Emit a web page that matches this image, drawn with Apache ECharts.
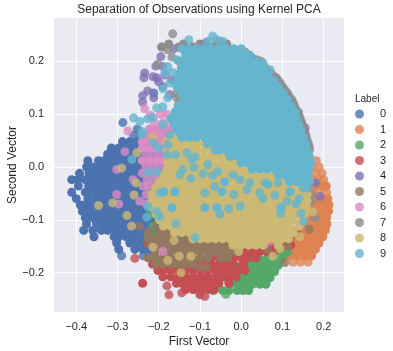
<!DOCTYPE html>
<html>
<head>
<meta charset="utf-8">
<script src="https://cdn.jsdelivr.net/npm/echarts@6/dist/echarts.min.js"></script>
<style>
  html, body { margin: 0; padding: 0; background: #fff; }
  #chart { width: 393px; height: 351px; }
</style>
</head>
<body>
<div id="chart"></div>
<script>
const labels = ['0', '1', '2', '3', '4', '5', '6', '7', '8', '9'];
const xTicks = [-0.4, -0.3, -0.2, -0.1, 0, 0.1, 0.2];
const yTicks = [-0.2, -0.1, 0, 0.1, 0.2];

// every row below is [y, x, x, x...]
const label0 = [
  [.14, -.212], [.084, -.287], [.072, -.252], [.06, -.261, -.243, -.225],
  [.048, -.288, -.27, -.252, -.234, -.216],
  [.036, -.315, -.297, -.279, -.261, -.243, -.225, -.207],
  [.024, -.324, -.306, -.288, -.27, -.252, -.234, -.216, -.198],
  [.012, -.372, -.346, -.333, -.315, -.297, -.279, -.261, -.243, -.225, -.207],
  [0, -.375, -.36, -.342, -.324, -.306, -.288, -.27, -.252, -.234, -.216, -.198],
  [-.012, -.392, -.369, -.351, -.333, -.315, -.297, -.279, -.261, -.243, -.225, -.207, -.189],
  [-.024, -.411, -.396, -.378, -.36, -.342, -.324, -.306, -.288, -.27, -.252, -.234, -.216, -.198],
  [-.036, -.395, -.37, -.351, -.333, -.315, -.297, -.279, -.261, -.243, -.225, -.207, -.189],
  [-.048, -.411, -.378, -.36, -.342, -.324, -.306, -.288, -.27, -.252, -.234, -.216, -.198],
  [-.06, -.4, -.372, -.351, -.333, -.315, -.297, -.279, -.261, -.243, -.225, -.207, -.189],
  [-.072, -.39, -.378, -.36, -.342, -.324, -.306, -.288, -.27, -.252, -.234, -.216, -.198],
  [-.084, -.385, -.369, -.351, -.333, -.315, -.297, -.279, -.261, -.243, -.225, -.207, -.189],
  [-.096, -.378, -.36, -.342, -.324, -.306, -.288, -.27, -.252, -.234, -.216, -.198],
  [-.108, -.375, -.351, -.333, -.315, -.297, -.279, -.261, -.243, -.225, -.207, -.189],
  [-.12, -.382, -.36, -.339, -.324, -.306, -.288, -.27, -.252, -.234, -.216, -.198],
  [-.132, -.357, -.308, -.297, -.279, -.261, -.243, -.225, -.207],
  [-.144, -.302, -.27, -.252, -.234, -.216],
  [-.156, -.297, -.258, -.238, -.222], [-.168, -.29, -.238, -.224]
];
const label1 = [
  [.012, .182], [0, .171, .189], [-.012, .162, .18, .196], [-.024, .171, .189, .2],
  [-.036, .162, .18, .198, .206], [-.048, .171, .189, .207], [-.06, .162, .18, .198, .21],
  [-.072, .171, .189, .207, .213], [-.084, .162, .18, .198, .212], [-.096, .153, .171, .189, .207],
  [-.108, .144, .162, .18, .198, .208], [-.12, .135, .153, .171, .189, .204],
  [-.132, .126, .144, .162, .18, .198], [-.144, .117, .135, .153, .171, .189],
  [-.156, .108, .126, .144, .162, .18], [-.168, .117, .135, .153, .171], [-.18, .126, .144, .162]
];
const label2 = [
  [-.15, .09, .108], [-.162, .063, .081, .099, .112], [-.174, .027, .045, .063, .081, .099],
  [-.186, .001, .018, .036, .054, .072, .09], [-.198, -.009, .009, .027, .045, .063, .081],
  [-.21, -.054, -.036, -.018, 0, .018, .036, .054, .07],
  [-.222, -.063, -.027, -.009, .009, .027, .045, .06],
  [-.234, -.068, -.045, -.03, -.01, .004, .018],
  [-.241, -.037], [-.24, -.1],
  [-.012, -.228], [-.035, -.218], [-.042, -.226], [-.067, -.207], [-.076, -.216],
  [-.081, -.222], [-.09, -.212], [-.1, -.2], [-.112, -.214], [-.13, -.212], [-.138, -.227],
  [-.144, -.228], [-.05, -.21], [-.026, -.208], [-.15, -.166]
];
const label3 = [
  [-.122, .133], [-.135, .118], [-.148, .018, .036, .054, .072, .09, .108, .12],
  [-.16, -.063, -.045, -.027, -.009, .009, .027, .045, .063, .08],
  [-.172, -.072, -.054, -.036, -.018, 0, .018, .036],
  [-.173, -.258], [-.184, -.215, -.198, -.18, -.162, -.144, -.126, -.108, -.09, -.072, -.054, -.036, -.018, .005],
  [-.196, -.202, -.189, -.171, -.153, -.135, -.117, -.099, -.081, -.063, -.045, -.027, -.009, .009],
  [-.208, -.19, -.171, -.153, -.135, -.117, -.099, -.081, -.063, -.045, -.027, -.012],
  [-.22, -.239, -.157, -.144, -.126, -.108, -.09, -.072, -.054, -.03],
  [-.225, -.18], [-.232, -.135, -.117, -.099, -.081, -.065],
  [-.238, -.144], [-.242, -.175, -.1], [-.245, -.088], [-.23, -.083], [-.144, -.228]
];
const label4 = [
  [.237, -.052], [.235, -.086], [.224, -.163], [.209, -.195], [.191, -.207], [.19, -.19],
  [.178, -.234], [.174, -.185], [.171, -.214], [.169, -.236, -.205], [.165, -.168], [.161, -.2],
  [.152, -.19], [.144, -.227], [.137, -.173], [.135, -.239], [.131, -.212], [.123, -.239],
  [.074, .155], [-.03, .181], [-.056, .191]
];
const label5 = [
  [-.112, -.246, -.207, -.189], [-.124, -.225, -.198, -.18, -.162, -.144],
  [-.136, -.225, -.207, -.189, -.171, -.153, -.135, -.117],
  [-.148, -.216, -.198, -.18, -.162, -.144, -.126, -.108, -.09, -.072, -.054, -.036],
  [-.16, -.207, -.189, -.171, -.153, -.135, -.117, -.099, -.081, -.063, -.045, -.027, -.009],
  [-.172, -.226, -.207, -.189, -.171, -.153, -.135, -.117, -.099, -.081, -.05, -.033],
  [-.184, -.207, -.189, -.171, -.153, -.135, -.117],
  [-.19, -.085, -.1], [-.156, .065], [-.15, .113], [-.181, .106], [-.118, .165]
];
const label6 = [
  [.11, -.234], [.1, -.18, -.196], [.098, -.22], [.084, -.21, -.19, -.172], [.072, -.222, -.204, -.186, -.168],
  [.068, -.275], [.06, -.231, -.213, -.195, -.177], [.048, -.24, -.222, -.204, -.186],
  [.036, -.24, -.222, -.204, -.186], [.029, -.282], [.024, -.231, -.213, -.195],
  [.012, -.24, -.222, -.204, -.186], [0, -.231, -.213, -.195], [-.012, -.24, -.222, -.204],
  [-.005, -.302], [-.024, -.228, -.21, -.262], [-.036, -.225, -.207, -.238], [-.052, -.23, -.302],
  [-.065, -.246], [-.07, -.297, -.23], [-.148, -.001], [-.14, .07], [-.16, -.19]
];
const label7 = [
  [.252, -.166], [.233, -.176, -.14, -.1, -.06, -.035], [.227, -.193, -.151, -.117, -.076],
  [.222, -.178, -.02], [.217, .01], [.208, -.168, .025], [.203, .038], [.195, -.202],
  [.2, -.15, .048], [.188, .058], [.182, .066], [.176, .074], [.17, .08, .084], [.164, .085, .09],
  [.158, .095], [.152, .1, .096], [.146, .106], [.14, .108, .112], [.134, .116], [.128, .118, .122],
  [.122, .126], [.116, .129, .125], [.11, .132], [.104, .139, .134], [.098, .14],
  [.092, .143, .14], [.086, .146], [.08, .148, .145], [.14, -.156], [.131, -.156], [.068, .154], [.062, .156], [.056, .158],
  [.05, .16], [.044, .163], [.038, .165], [.032, .166], [.122, -.15],
  [-.03, .165], [-.04, .16], [-.05, .17], [-.065, .17], [-.096, .179]
];
const label8 = [
  [.057, -.214], [.048, -.183], [.027, -.253], [-.002, -.29], [-.03, -.255], [-.053, -.26],
  [-.068, -.312], [-.073, -.346], [-.092, -.277], [-.112, -.266], [-.152, -.214],
  [-.177, -.178], [-.169, -.122, -.15], [-.139, -.163], [-.2, -.146], [-.16, -.006],
  [-.169, .077], [-.155, .094], [-.132, .142], [-.085, .174],
  [.056, -.17, -.152, -.134, -.116],
  [.044, -.175, -.162, -.144, -.126, -.108, -.09],
  [.032, -.178, -.162, -.144, -.126, -.108, -.09, -.072, -.054, -.036],
  [.02, -.178, -.162, -.144, -.126, -.108, -.09, -.072, -.054, -.036, -.018, 0],
  [.008, -.178, -.171, -.153, -.135, -.117, -.099, -.081, -.063, -.045, -.027, -.009, .009, .027],
  [-.004, -.18, -.162, -.144, -.126, -.108, -.09, -.072, -.054, -.036, -.018, 0, .018, .036, .054],
  [-.016, -.189, -.171, -.153, -.135, -.117, -.099, -.081, -.063, -.045, -.027, -.009, .009, .027, .045, .063, .081, .099, .117],
  [-.028, -.198, -.18, -.162, -.144, -.126, -.108, -.09, -.072, -.054, -.036, -.018, 0, .018, .036, .054, .072, .09, .108, .126, .144],
  [-.04, -.207, -.189, -.171, -.153, -.135, -.117, -.099, -.081, -.063, -.045, -.027, -.009, .009, .027, .045, .063, .081, .099, .117, .135, .153],
  [-.052, -.216, -.198, -.18, -.162, -.144, -.126, -.108, -.09, -.072, -.054, -.036, -.018, 0, .018, .036, .054, .072, .09, .108, .126, .144, .16],
  [-.064, -.216, -.207, -.189, -.171, -.153, -.135, -.117, -.099, -.081, -.063, -.045, -.027, -.009, .009, .027, .045, .063, .081, .099, .117, .135, .153, .16],
  [-.076, -.216, -.198, -.18, -.162, -.144, -.126, -.108, -.09, -.072, -.054, -.036, -.018, 0, .018, .036, .054, .072, .09, .108, .126, .144, .158],
  [-.088, -.207, -.189, -.171, -.153, -.135, -.117, -.099, -.081, -.063, -.045, -.027, -.009, .009, .027, .045, .063, .081, .099, .117, .135, .155],
  [-.1, -.198, -.18, -.162, -.144, -.126, -.108, -.09, -.072, -.054, -.036, -.018, 0, .018, .036, .054, .072, .09, .108, .126, .148],
  [-.112, -.189, -.171, -.153, -.135, -.117, -.099, -.081, -.063, -.045, -.027, -.009, .009, .027, .045, .063, .081, .099, .117, .14],
  [-.124, -.162, -.144, -.126, -.108, -.09, -.072, -.054, -.036, -.018, 0, .018, .036, .054, .072, .09, .108, .126],
  [-.136, -.117, -.099, -.081, -.063, -.045, -.027, -.009, .009, .027, .045, .063, .081, .099, .115],
  [-.148, -.02, 0, .018, .036, .054, .09]
];
const label9 = [
  [.248, -.069], [.241, -.127, -.059], [.238, -.08, -.045],
  [.224, -.144, -.126, -.108, -.09, -.072, -.054, -.036, -.018, 0],
  [.212, -.135, -.117, -.099, -.081, -.063, -.045, -.027, -.009, .009, .02],
  [.203, -.156],
  [.2, -.139, -.126, -.108, -.09, -.072, -.054, -.036, -.018, 0, .018, .036],
  [.19, -.178], [.197, .053], [.184, .07],
  [.188, -.145, -.135, -.117, -.099, -.081, -.063, -.045, -.027, -.009, .009, .027, .045, .05],
  [.178, -.185], [.179, -.166],
  [.176, -.151, -.144, -.126, -.108, -.09, -.072, -.054, -.036, -.018, 0, .018, .036, .054, .065],
  [.164, -.153, -.135, -.117, -.099, -.081, -.063, -.045, -.027, -.009, .009, .027, .045, .063, .071, .078],
  [.159, -.173], [.148, -.19],
  [.152, -.156, -.144, -.126, -.108, -.09, -.072, -.054, -.036, -.018, 0, .018, .036, .054, .072, .082, .09],
  [.14, -.145, -.135, -.117, -.099, -.081, -.063, -.045, -.027, -.009, .009, .027, .045, .063, .081, .092, .102],
  [.131, -.178],
  [.128, -.139, -.126, -.108, -.09, -.072, -.054, -.036, -.018, 0, .018, .036, .054, .072, .09, .101, .112],
  [.116, -.153, -.135, -.117, -.099, -.081, -.063, -.045, -.027, -.009, .009, .027, .045, .063, .081, .099, .11, .121],
  [.114, -.19], [.112, -.205],
  [.104, -.16, -.144, -.126, -.108, -.09, -.072, -.054, -.036, -.018, 0, .018, .036, .054, .072, .09, .108, .119, .13],
  [.093, -.261, -.214], [.091, -.227], [.086, -.246],
  [.092, -.171, -.153, -.135, -.117, -.099, -.081, -.063, -.045, -.027, -.009, .009, .027, .045, .063, .081, .099, .117, .126, .134],
  [.08, -.19],
  [.08, -.162, -.144, -.126, -.108, -.09, -.072, -.054, -.036, -.018, 0, .018, .036, .054, .072, .09, .108, .126, .134, .14],
  [.068, -.153, -.135, -.117, -.099, -.081, -.063, -.045, -.027, -.009, .009, .027, .045, .063, .081, .099, .117, .135, .145],
  [.067, -.239], [.061, -.241, -.173],
  [.056, -.144, -.126, -.108, -.09, -.072, -.054, -.036, -.018, 0, .018, .036, .054, .072, .09, .108, .126, .144, .15],
  [.046, -.214], [.042, -.178], [.036, -.2],
  [.044, -.081, -.063, -.045, -.027, -.009, .009, .027, .045, .063, .081, .099, .117, .135, .153, .156],
  [.032, -.063, -.054, -.036, -.018, 0, .018, .036, .054, .072, .09, .108, .126, .144, .16],
  [.027, -.132], [.023, -.18, -.159], [.019, -.112], [.014, -.265, -.12],
  [.02, -.027, -.009, .009, .027, .045, .063, .081, .099, .117, .135, .153, .165],
  [.008, 0, .018, .036, .054, .072, .09, .108, .126, .144, .162, .168],
  [.004, -.081], [-.001, -.115], [-.005, -.142], [-.009, -.205, -.057],
  [-.004, .027, .045, .063, .081, .099, .117, .135, .153, .165],
  [-.011, -.226], [-.013, -.093], [-.015, -.149, -.02], [-.016, -.069],
  [-.016, .09, .108, .126, .144, .162],
  [-.022, -.122], [-.024, -.003], [-.028, -.04, .117, .135, .153, .165],
  [-.03, .021, .058, .089], [-.033, .065], [-.037, -.064], [-.04, .15, .16],
  [-.043, .014], [-.047, -.161, -.188, -.047, .118], [-.049, -.197, -.088, .045], [-.052, -.018],
  [-.054, .082], [-.06, .053, .14], [-.065, .111], [-.07, .133], [-.074, -.003], [-.075, -.226],
  [-.077, -.168, -.088, -.059, .096], [-.079, -.03], [-.084, -.205], [-.088, .096, .145],
  [-.089, -.052], [-.094, -.197], [-.095, -.229], [-.103, .152], [-.107, -.158], [-.134, -.112]
];

const colors = ['#4C72B0', '#DD8452', '#55A868', '#C44E52', '#8172B3', '#937860', '#DA8BC3', '#8C8C8C', '#CCB974', '#64B5CD'];
const rows = [label0, label1, label2, label3, label4, label5, label6, label7, label8, label9];

// long rows are the solid parts of a cluster, the overplotting there hides the alpha
function toPoints(list) {
  return list.flatMap(([y, ...xs]) => xs.map((x) => (
    xs.length > 3 ? { value: [x, y], itemStyle: { opacity: 1 } } : [x, y]
  )));
}

function tickLabel(value) {
  return value.toFixed(1).replace('-', '\u2212');
}

const textColor = '#262626';
const fontFamily = '"Liberation Sans", Arial, sans-serif';

const option = {
  animation: false,
  backgroundColor: '#fff',
  textStyle: { fontFamily: fontFamily, color: textColor },
  title: [
    {
      text: 'Separation of Observations using Kernel PCA',
      left: 199, top: 4, textAlign: 'center', padding: 0,
      textStyle: { fontFamily: fontFamily, fontSize: 12, fontWeight: 'normal', color: textColor },
    },
    {
      text: 'Label',
      left: 355, top: 94, padding: 0,
      textStyle: { fontFamily: fontFamily, fontSize: 10, fontWeight: 'normal', color: textColor },
    },
  ],
  grid: {
    left: 54, top: 18, width: 290, height: 294,
    outerBoundsMode: 'none',
    show: true, backgroundColor: '#EAEAF2', borderWidth: 0,
  },
  legend: {
    data: labels,
    orient: 'vertical',
    left: 355, top: 108, padding: 0,
    itemWidth: 9, itemHeight: 9, itemGap: 3.5,
    icon: 'circle',
    textStyle: { fontFamily: fontFamily, fontSize: 11, lineHeight: 12, color: textColor, padding: [0, 0, 0, 11] },
  },
  xAxis: {
    type: 'value',
    min: -0.454, max: 0.2493,
    name: 'First Vector', nameLocation: 'middle', nameGap: 24, nameMoveOverlap: false,
    nameTextStyle: { fontFamily: fontFamily, fontSize: 12, color: textColor },
    axisLine: { show: false },
    axisTick: { show: false, customValues: xTicks },
    axisLabel: { customValues: xTicks, formatter: tickLabel, fontFamily: fontFamily, fontSize: 11, color: textColor, margin: 9 },
    splitLine: { show: true, lineStyle: { color: '#fff', width: 1 } },
  },
  yAxis: {
    type: 'value',
    min: -0.2745, max: 0.282,
    name: 'Second Vector', nameLocation: 'middle', nameGap: 35, nameMoveOverlap: false,
    nameTextStyle: { fontFamily: fontFamily, fontSize: 12, color: textColor },
    axisLine: { show: false },
    axisTick: { show: false, customValues: yTicks },
    axisLabel: { customValues: yTicks, formatter: tickLabel, fontFamily: fontFamily, fontSize: 11, color: textColor, margin: 10 },
    splitLine: { show: true, lineStyle: { color: '#fff', width: 1 } },
  },
  series: labels.map((name, i) => ({
    name: name,
    type: 'scatter',
    symbolSize: 9,
    itemStyle: { color: colors[i], opacity: 0.8 },
    data: toPoints(rows[i]),
  })),
};

const chart = echarts.init(document.getElementById('chart'));
chart.setOption(option);
</script>
</body>
</html>
